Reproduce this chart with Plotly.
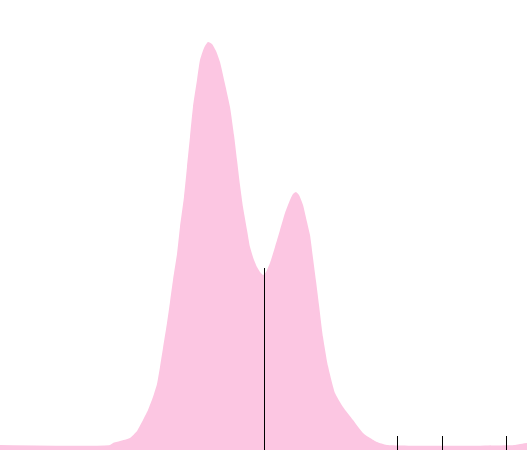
import plotly.graph_objs as go

# density curve
value = [0.0, 11.0, 11.3, 12.0, 13.0, 13.7, 14.3, 14.8, 15.3, 15.7, 16.0, 16.3, 16.7,
         17.0, 17.3, 17.7, 18.0, 18.4, 18.7, 19.0, 19.3, 19.7, 20.0, 20.4, 20.8, 21.2,
         21.6, 22.0, 22.5, 23.0, 23.4, 23.7, 24.0, 24.3, 24.7, 25.0, 25.4, 25.7, 26.0,
         26.3, 26.6, 27.0, 27.5, 28.0, 28.5, 29.0, 29.3, 29.6, 29.9, 30.3, 30.7, 31.0,
         31.3, 31.6, 31.9, 32.3, 32.8, 33.5, 34.3, 35.3, 36.3, 37.0, 37.7, 38.7, 51.5,
         52.0, 52.7]
density = [0.005, 0.005, 0.007, 0.009, 0.012, 0.019, 0.030, 0.040, 0.053, 0.066, 0.083,
           0.102, 0.127, 0.148, 0.170, 0.196, 0.223, 0.253, 0.283, 0.313, 0.343, 0.370,
           0.390, 0.402, 0.408, 0.406, 0.399, 0.388, 0.366, 0.343, 0.315, 0.290, 0.265,
           0.243, 0.220, 0.203, 0.190, 0.183, 0.178, 0.175, 0.178, 0.187, 0.203, 0.220,
           0.237, 0.250, 0.256, 0.258, 0.255, 0.245, 0.228, 0.215, 0.192, 0.169, 0.145,
           0.113, 0.084, 0.057, 0.043, 0.030, 0.017, 0.012, 0.008, 0.005, 0.005, 0.006,
           0.007]

median_value = 26.45
median_height = 0.182

rug_values = [39.75, 44.25, 50.65]
rug_height = 0.014

fill_color = 'rgb(252,198,226)'

data = []

data.append(
    go.Scatter(
        x=value,
        y=density,
        mode='lines',
        fill='tozeroy',
        fillcolor=fill_color,
        line=dict(width=0, color=fill_color, shape='spline', smoothing=0.5),
        hoverinfo='skip'
    )
)

data.append(
    go.Scatter(
        x=[median_value, median_value],
        y=[0, median_height],
        mode='lines',
        line=dict(width=1, color='black'),
        hoverinfo='skip'
    )
)

rug_x = []
rug_y = []
for v in rug_values:
    rug_x += [v, v, None]
    rug_y += [0, rug_height, None]

data.append(
    go.Scatter(
        x=rug_x,
        y=rug_y,
        mode='lines',
        line=dict(width=1, color='black'),
        hoverinfo='skip'
    )
)

layout = dict(
    width=527,
    height=450,
    margin=dict(l=0, r=0, t=0, b=0),
    showlegend=False,
    paper_bgcolor='white',
    plot_bgcolor='white',
    xaxis=dict(range=[0, 52.7], visible=False, fixedrange=True),
    yaxis=dict(range=[0, 0.45], visible=False, fixedrange=True),
)

fig = go.Figure(data=data, layout=layout)
fig.write_html("out.html", config=dict(displayModeBar=False),
               post_script="document.body.style.margin='0';")
